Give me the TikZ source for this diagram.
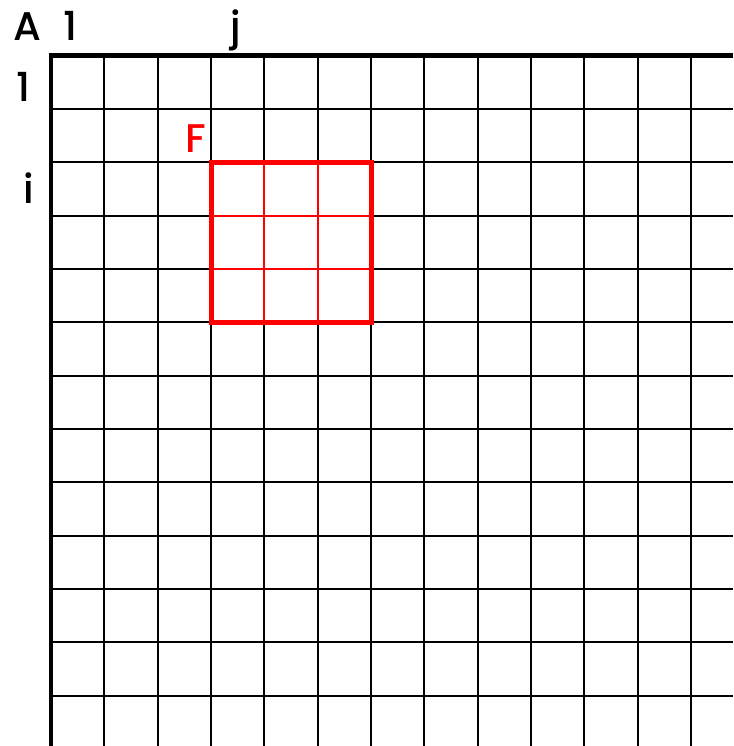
\documentclass[tikz,border=0pt]{standalone}
\usepackage{fontspec}
\setmainfont{Poppins}[UprightFont=* Medium]
\begin{document}
\begin{tikzpicture}[x=1pt,y=-1pt,
  gridline/.style={line width=1.9pt,black},
  axisline/.style={line width=4.8pt,black},
  redthin/.style={line width=1.8pt,red},
  redthick/.style={line width=5pt,red},
  lbl/.style={inner sep=0pt,anchor=base,font=\fontsize{40}{40}\selectfont},
]
\useasboundingbox (0,0) rectangle (733,746);
\fill[white] (0,0) rectangle (733,746);
% grid
\foreach \k in {1,...,12}{
  \draw[gridline] ({51+53.33*\k},55.7) -- ({51+53.33*\k},746);
  \draw[gridline] (51,{55.7+53.33*\k}) -- (733,{55.7+53.33*\k});
}
% axes
\draw[axisline] (51,53.3) -- (51,746);
\draw[axisline] (48.6,55.7) -- (733,55.7);
% filter F
\coordinate (f0) at (211,162.4);
\coordinate (f1) at (371,322.3);
\foreach \k in {1,2}{
  \draw[redthin] ({211+53.33*\k},162.4) -- ({211+53.33*\k},322.3);
  \draw[redthin] (211,{162.4+53.33*\k}) -- (371,{162.4+53.33*\k});
}
\draw[redthick] (f0) rectangle (f1);
% labels
\node[lbl] (A) at (27.3,40.7) {A};
\node[lbl] (c1) at (70,40.5) {1};
\node[lbl] (cj) at (236,40.5) {j};
\node[lbl] (r1) at (23.5,101.7) {1};
\node[lbl] (ri) at (28.5,204) {i};
\node[lbl,text=red] (F) at (195.5,152.7) {F};
\end{tikzpicture}
\end{document}
